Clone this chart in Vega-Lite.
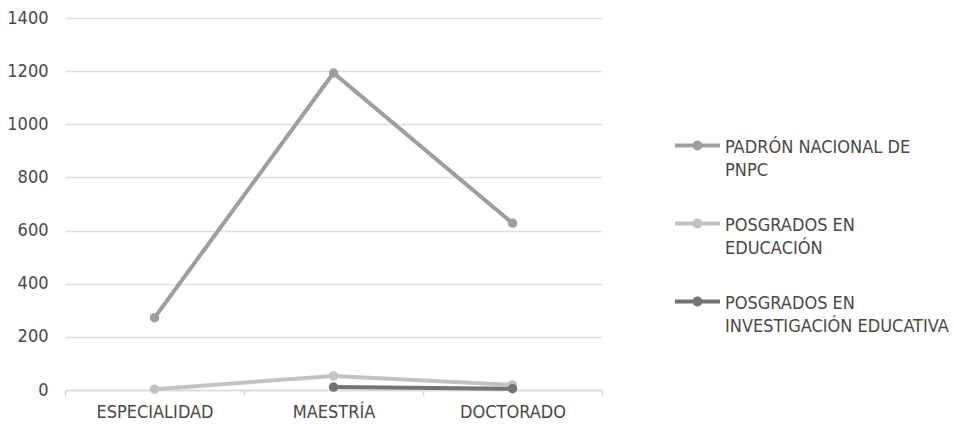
{
  "$schema": "https://vega.github.io/schema/vega-lite/v6.json",
  "width": 537,
  "height": 372,
  "autosize": {"type": "none"},
  "padding": {"left": 65, "top": 18, "right": 352, "bottom": 35},
  "background": "white",
  "config": {
    "view": {"stroke": null},
    "font": "DejaVu Sans Condensed, sans-serif",
    "axis": {"labelFont": "DejaVu Sans Condensed, sans-serif", "labelColor": "#484848", "labelFontSize": 18, "title": null},
    "legend": {"labelFont": "DejaVu Sans Condensed, sans-serif", "labelColor": "#484848", "labelFontSize": 18},
    "style": {"guide-label": {"lineHeight": 23}}
  },
  "data": {
    "values": [
      {"nivel": "ESPECIALIDAD", "serie": "PADRÓN NACIONAL DE PNPC", "valor": 272},
      {"nivel": "MAESTRÍA", "serie": "PADRÓN NACIONAL DE PNPC", "valor": 1193},
      {"nivel": "DOCTORADO", "serie": "PADRÓN NACIONAL DE PNPC", "valor": 628},
      {"nivel": "ESPECIALIDAD", "serie": "POSGRADOS EN EDUCACIÓN", "valor": 3},
      {"nivel": "MAESTRÍA", "serie": "POSGRADOS EN EDUCACIÓN", "valor": 53},
      {"nivel": "DOCTORADO", "serie": "POSGRADOS EN EDUCACIÓN", "valor": 19},
      {"nivel": "MAESTRÍA", "serie": "POSGRADOS EN INVESTIGACIÓN EDUCATIVA", "valor": 11},
      {"nivel": "DOCTORADO", "serie": "POSGRADOS EN INVESTIGACIÓN EDUCATIVA", "valor": 5}
    ]
  },
  "encoding": {
    "x": {
      "field": "nivel",
      "type": "nominal",
      "sort": ["ESPECIALIDAD", "MAESTRÍA", "DOCTORADO"],
      "scale": {"paddingInner": 0, "paddingOuter": 0},
      "axis": {
        "labelAngle": 0,
        "tickBand": "extent",
        "domainColor": "#d9d9d9",
        "domainWidth": 1.5,
        "tickColor": "#d9d9d9",
        "tickWidth": 1.5,
        "tickSize": 6,
        "labelPadding": 7,
        "grid": false
      }
    },
    "y": {
      "field": "valor",
      "type": "quantitative",
      "scale": {"domain": [0, 1400]},
      "axis": {
        "values": [0, 200, 400, 600, 800, 1000, 1200, 1400],
        "format": "d",
        "domain": false,
        "ticks": false,
        "gridColor": "#dedede",
        "gridWidth": 1.5,
        "labelPadding": 17
      }
    },
    "color": {
      "field": "serie",
      "type": "nominal",
      "scale": {
        "domain": ["PADRÓN NACIONAL DE PNPC", "POSGRADOS EN EDUCACIÓN", "POSGRADOS EN INVESTIGACIÓN EDUCATIVA"],
        "range": ["#9e9e9e", "#c2c2c2", "#737373"]
      },
      "legend": {
        "title": null,
        "orient": "none",
        "legendX": 610,
        "legendY": 98,
        "padding": 0,
        "symbolType": "M-1,0.225H1V0.395H-1Z M0.22,0.31A0.22,0.22,0,1,1,-0.22,0.31A0.22,0.22,0,1,1,0.22,0.31Z",
        "symbolSize": 2025,
        "symbolStrokeWidth": 0,
        "labelLimit": 400,
        "labelOffset": 5,
        "labelBaseline": "top",
        "rowPadding": 14,
        "labelExpr": "datum.label == 'PADRÓN NACIONAL DE PNPC' ? ['PADRÓN NACIONAL DE', 'PNPC'] : datum.label == 'POSGRADOS EN EDUCACIÓN' ? ['POSGRADOS EN', 'EDUCACIÓN'] : ['POSGRADOS EN', 'INVESTIGACIÓN EDUCATIVA']"
      }
    }
  },
  "layer": [
    {"mark": {"type": "line", "strokeWidth": 4}},
    {"mark": {"type": "point", "filled": true, "size": 90, "opacity": 1}}
  ]
}
